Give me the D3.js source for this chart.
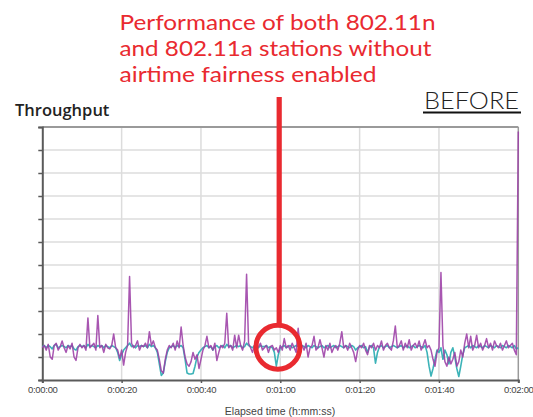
<!DOCTYPE html>
<html><head><meta charset="utf-8">
<script src="https://cdn.jsdelivr.net/npm/d3@7"></script>
<style>html,body{margin:0;padding:0;background:#fff;}</style>
</head><body>
<svg id="c" width="533" height="417"></svg>
<script>
// time step 0.5 s, 0..120 s
const step = 0.5;
const xTickLabels = ["0:00:00","0:00:20","0:00:40","0:01:00","0:01:20","0:01:40","0:02:00"];
const xTickValues = [0,20,40,60,80,100,120];
const yTickValues = [0,1,2,3,4,5,6,7,8,9,10,11];
const series80211n = [
1.4,1.5,1.3,1.55,1.0,0.9,1.5,1.6,1.3,1.45, 1.7,1.4,1.2,1.5,1.35,1.6,1.0,0.85,1.4,1.55,
1.4,1.5,1.3,2.7,1.4,1.5,1.6,1.3,2.8,1.4, 1.5,1.2,1.55,1.4,1.35,1.5,2.0,1.4,1.3,0.95,
1.3,0.65,1.2,1.5,4.5,1.6,1.4,1.5,1.7,1.3, 1.5,1.45,1.6,1.4,2.1,1.5,1.7,1.4,1.3,0.9,
0.4,0.3,0.9,1.3,1.5,1.4,1.6,1.3,1.7,1.4, 2.3,1.5,1.0,0.7,0.6,0.8,1.2,0.9,1.1,0.5,
0.9,1.3,1.5,1.9,1.4,1.5,1.3,1.6,0.85,1.2, 1.5,1.4,1.6,2.9,1.4,1.5,1.3,1.95,1.4,1.95,
1.5,1.3,1.7,4.6,1.6,1.4,1.2,1.5,1.3,1.45, 1.6,1.3,1.4,1.5,1.2,1.45,1.5,1.3,1.4,1.2,
1.5,1.3,1.8,1.4,1.5,1.3,1.6,1.4,1.2,2.25, 1.4,1.5,1.3,1.6,1.0,1.4,1.5,1.9,1.3,1.4,
1.75,1.4,1.0,1.5,1.3,1.6,1.2,1.4,1.5,1.3, 1.6,2.1,1.4,1.5,1.3,1.6,1.4,1.2,0.8,1.3,
1.5,1.4,1.6,1.3,1.1,1.5,1.4,1.6,1.3,1.5, 1.4,1.7,1.3,1.5,1.6,1.4,1.3,1.7,2.35,1.4,
1.5,1.7,1.3,1.6,1.4,1.75,1.3,1.5,1.6,1.4, 1.7,1.3,1.5,1.75,1.4,1.5,1.3,0.9,0.6,1.2,
1.4,4.67,1.5,0.8,0.6,1.0,0.7,0.9,1.2,0.6, 0.8,1.3,1.0,1.6,2.0,1.4,1.9,1.3,1.5,1.95,
1.4,1.6,1.3,1.5,1.8,1.4,1.6,1.3,1.7,1.5, 1.4,1.6,1.3,1.5,1.7,1.4,1.5,1.6,1.3,1.1, 10.8
];
const series80211a = [
1.45,1.5,1.4,1.5,1.45,1.35,1.5,1.55,1.4,1.45, 1.5,1.45,1.4,1.5,1.45,1.5,1.35,1.3,1.45,1.5,
1.45,1.5,1.4,1.55,1.45,1.5,1.45,1.4,1.5,1.45, 1.5,1.4,1.5,1.45,1.4,1.5,1.45,1.4,1.2,0.85,
1.1,1.3,1.4,1.5,1.6,1.45,1.5,1.4,1.5,1.45, 1.5,1.45,1.5,1.4,1.55,1.45,1.5,1.4,1.2,0.7,
0.2,0.3,0.8,1.2,1.4,1.45,1.5,1.4,1.5,1.45, 1.5,1.4,0.9,0.3,0.26,0.26,0.28,0.6,1.0,1.2,
1.3,1.4,1.45,1.5,1.4,1.45,1.3,1.45,1.5,1.4, 1.45,1.5,1.4,1.55,1.45,1.5,1.4,1.45,1.5,1.45,
1.5,1.4,1.45,1.6,1.5,1.45,1.4,1.5,1.45,1.4, 1.5,1.45,1.45,1.5,1.4,1.45,1.4,1.2,0.6,1.1,
1.4,1.45,1.5,1.4,1.45,1.5,1.4,1.45,1.5,1.45, 1.4,1.5,1.45,1.4,1.5,1.45,1.4,1.5,1.45,1.4,
1.45,1.5,1.4,1.45,1.5,1.4,1.45,1.5,1.4,1.45, 1.5,1.45,1.4,1.5,1.45,1.4,1.5,1.45,1.3,1.4,
1.45,1.5,1.4,1.45,1.2,1.45,1.5,1.4,0.73,1.2, 1.45,1.5,1.4,1.45,1.5,1.4,1.45,1.5,1.45,1.4,
1.45,1.5,1.4,1.45,1.5,1.4,1.45,1.5,1.4,1.45, 1.5,1.45,1.4,1.5,1.2,0.6,0.17,0.5,0.9,1.3,
1.2,1.4,0.9,1.3,1.1,0.7,1.2,1.4,1.0,0.5, 0.15,0.6,1.1,1.4,1.45,1.5,1.4,1.5,1.45,1.4,
1.5,1.45,1.4,1.5,1.45,1.4,1.5,1.45,1.4,1.5, 1.45,1.4,1.5,1.45,1.4,1.5,1.45,1.4,1.5,1.35, 1.4
];
const annotationLines = ["Performance of both 802.11n","and 802.11a stations without","airtime fairness enabled"];
const annotationWidths = [316, 312, 257];

const svg = d3.select("#c");
const L = 42.3, R = 518.3, T = 127, B = 380;
const x = d3.scaleLinear().domain([0,120]).range([L,R]);
const y = d3.scaleLinear().domain([0,11]).range([B,T]);

// gridlines
svg.append("g").selectAll("line").data(yTickValues.slice(1)).join("line")
  .attr("x1",L).attr("x2",R).attr("y1",d=>y(d)).attr("y2",d=>y(d))
  .attr("stroke","#dcdcdc").attr("stroke-width",1.5);
svg.append("g").selectAll("line").data(xTickValues.slice(1,-1)).join("line")
  .attr("x1",d=>x(d)).attr("x2",d=>x(d)).attr("y1",T).attr("y2",B)
  .attr("stroke","#dcdcdc").attr("stroke-width",1.5);

// borders
svg.append("line").attr("x1",L).attr("x2",R).attr("y1",T).attr("y2",T).attr("stroke","#9a9a9a").attr("stroke-width",2);
svg.append("line").attr("x1",R).attr("x2",R).attr("y1",T).attr("y2",B).attr("stroke","#9a9a9a").attr("stroke-width",1.5);

// axes
const yAxis = d3.axisLeft(y).tickValues(yTickValues).tickSize(4).tickFormat("");
svg.append("g").attr("transform",`translate(${L},0)`).call(yAxis)
  .call(g=>g.select(".domain").attr("stroke","#5a5a5a").attr("stroke-width",2))
  .call(g=>g.selectAll(".tick line").attr("stroke","#5a5a5a").attr("stroke-width",1.5));
const xAxis = d3.axisBottom(x).tickValues(xTickValues).tickSize(3).tickPadding(3)
  .tickFormat((d,i)=>xTickLabels[i]);
svg.append("g").attr("transform",`translate(0,${B})`).call(xAxis)
  .call(g=>g.select(".domain").attr("stroke","#5a5a5a").attr("stroke-width",2))
  .call(g=>g.selectAll(".tick line").attr("stroke","#5a5a5a").attr("stroke-width",1.5))
  .call(g=>g.selectAll("text").attr("fill","#444").attr("font-family","Liberation Sans, Arial, sans-serif").attr("font-size","9.5px").attr("letter-spacing","-0.3px"));

// series
const line = d3.line().x((d,i)=>x(i*step)).y(d=>y(d));
svg.append("path").datum(series80211a).attr("d",line).attr("fill","none")
  .attr("stroke","#3cb3b8").attr("stroke-width",1.6).attr("stroke-linejoin","round");
svg.append("path").datum(series80211n).attr("d",line).attr("fill","none")
  .attr("stroke","#9c3fa6").attr("stroke-width",1.5).attr("stroke-linejoin","round").attr("opacity",0.88);

// titles
svg.append("text").attr("x",15).attr("y",116).text("Throughput")
  .attr("font-family","Open Sans, Liberation Sans, sans-serif").attr("font-size","16.5px").attr("fill","#222").attr("font-weight","600");
svg.append("text").attr("x",280).attr("y",415).attr("text-anchor","middle").text("Elapsed time (h:mm:ss)")
  .attr("font-family","Liberation Sans, Arial, sans-serif").attr("font-size","10.5px").attr("fill","#444");
svg.append("text").attr("x",424).attr("y",109).text("BEFORE")
  .attr("font-family","Lato, Liberation Sans, sans-serif").attr("font-weight","300").attr("font-size","23.5px").attr("fill","#222")
  .attr("textLength",95).attr("lengthAdjust","spacingAndGlyphs");
svg.append("line").attr("x1",423).attr("x2",521).attr("y1",112.5).attr("y2",112.5).attr("stroke","#111").attr("stroke-width",2);

// annotation
svg.append("g").selectAll("text").data(annotationLines).join("text")
  .attr("x",119.5).attr("y",(d,i)=>29.5+i*26).text(d=>d)
  .attr("font-family","Lato, Open Sans, sans-serif").attr("font-size","20.5px").attr("fill","#e92a30")
  .attr("textLength",(d,i)=>annotationWidths[i]).attr("lengthAdjust","spacingAndGlyphs");
svg.append("line").attr("x1",279.2).attr("x2",279.2).attr("y1",97).attr("y2",325)
  .attr("stroke","#e92a30").attr("stroke-width",5.2);
svg.append("circle").attr("cx",277.9).attr("cy",347.2).attr("r",22)
  .attr("fill","none").attr("stroke","#e92a30").attr("stroke-width",5);
</script>
</body></html>
